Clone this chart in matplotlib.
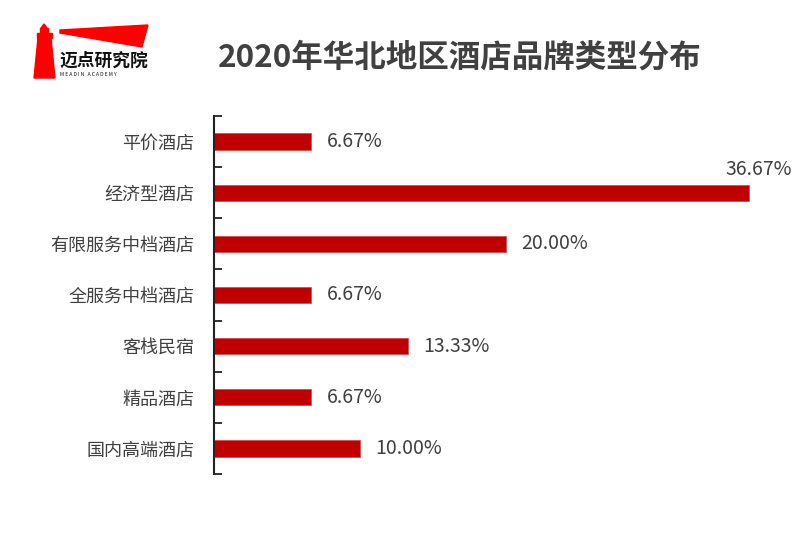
import matplotlib.pyplot as plt
from matplotlib.patches import Polygon, Rectangle

plt.rcParams['font.family'] = ['Noto Sans CJK SC', 'DejaVu Sans']

# Data
categories = ['平价酒店', '经济型酒店', '有限服务中档酒店', '全服务中档酒店', '客栈民宿', '精品酒店', '国内高端酒店']
values = [6.67, 36.67, 20.00, 6.67, 13.33, 6.67, 10.00]
labels = ['6.67%', '36.67%', '20.00%', '6.67%', '13.33%', '6.67%', '10.00%']

W, H = 800, 534
fig = plt.figure(figsize=(8, 5.34), dpi=100)

# figure coords helper (pixels from top-left)
def fx(x):
    return x / W

def fy(y):
    return 1 - y / H

# Title
fig.text(fx(218), fy(58), '2020年华北地区酒店品牌类型分布', fontsize=22.7, fontweight='bold',
         color='#404040', va='center', ha='left')

# Logo: lighthouse + red banner
red = '#FF0000'
tf = fig.transFigure
fig.patches.append(Polygon([(fx(34), fy(78)), (fx(55), fy(78)), (fx(51), fy(38)), (fx(38), fy(38))],
                           closed=True, color=red, transform=tf))
fig.patches.append(Rectangle((fx(37), fy(38)), fx(15), fy(33) - fy(38), color=red, transform=tf))
fig.patches.append(Rectangle((fx(40), fy(33)), fx(8), fy(28) - fy(33), color=red, transform=tf))
fig.patches.append(Polygon([(fx(41), fy(28)), (fx(47), fy(28)), (fx(44), fy(24))], closed=True,
                           color=red, transform=tf))
fig.patches.append(Polygon([(fx(60), fy(30)), (fx(148), fy(25)), (fx(142), fy(47)), (fx(60), fy(33))],
                           closed=True, color=red, transform=tf))
fig.text(fx(59), fy(61), '迈点研究院', fontsize=12.8, fontweight='bold', color='#111111', va='center', ha='left')
fig.text(fx(60), fy(75), 'M E A D I N   A C A D E M Y', fontsize=3.6, color='#111111', va='center', ha='left')

# Chart
ax = fig.add_axes([fx(214), fy(474), fx(768 - 214), fy(116) - fy(474)])
y = list(range(len(categories)))[::-1]
ax.barh(y, values, height=0.32, color='#C00000', edgecolor='#D84040', linewidth=0.5)

for yi, v, lab in zip(y, values, labels):
    if v > 30:
        ax.annotate(lab, xy=(v, yi), xytext=(31, 17), textcoords='offset points',
                    ha='right', va='center', fontsize=14, color='#404040')
    else:
        ax.annotate(lab, xy=(v, yi), xytext=(11, 0), textcoords='offset points',
                    ha='left', va='center', fontsize=14, color='#404040')

ax.set_xlim(0, 38)
ax.set_ylim(-0.5, len(categories) - 0.5)
ax.set_yticks(y)
ax.set_yticklabels(categories, fontsize=13, color='#404040')
ax.tick_params(axis='y', which='major', length=0, pad=14)
ax.set_yticks([i - 0.5 for i in range(len(categories) + 1)], minor=True)
ax.tick_params(axis='y', which='minor', direction='in', length=6, width=1.3, color='#222222')
ax.set_xticks([])

for s in ['top', 'right', 'bottom']:
    ax.spines[s].set_visible(False)
ax.spines['left'].set_linewidth(1.5)
ax.spines['left'].set_color('#222222')

fig.savefig('out.png', dpi=100)
